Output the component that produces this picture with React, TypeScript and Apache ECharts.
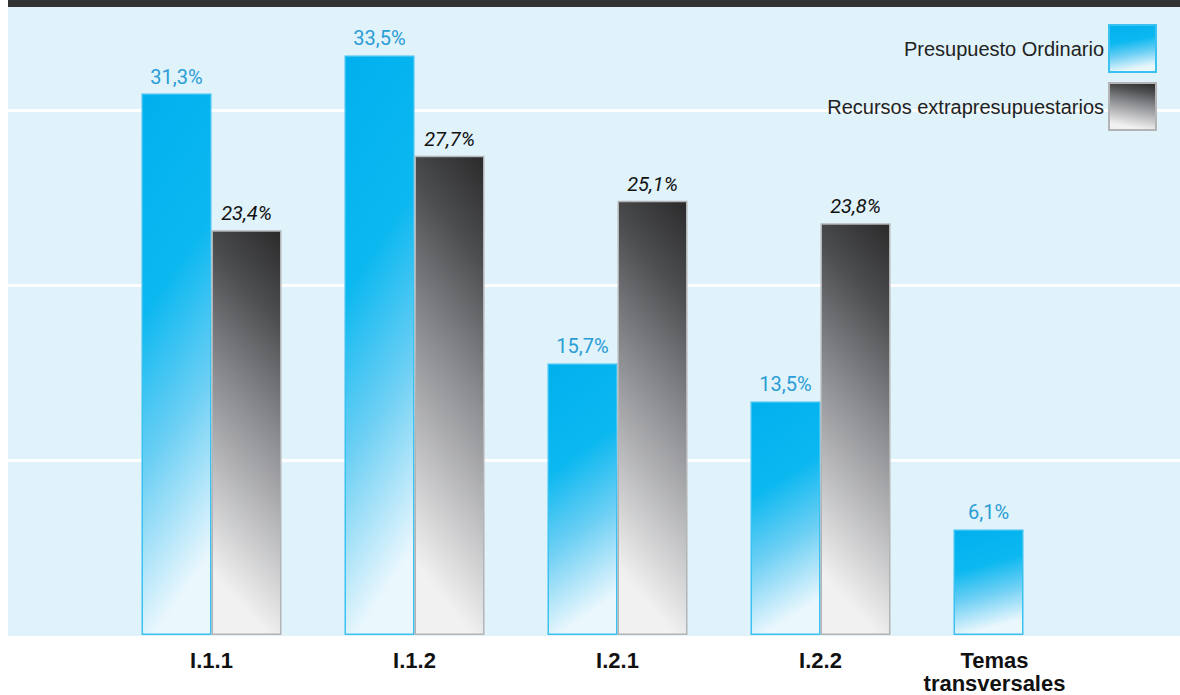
import React, { useEffect, useRef } from "react";
import * as echarts from "echarts";

const categories = ["I.1.1", "I.1.2", "I.2.1", "I.2.2", "Temas\ntransversales"];
const ordinario = [31.3, 33.5, 15.7, 13.5, 6.1];
const extra: (number | null)[] = [23.4, 27.7, 25.1, 23.8, null];
const seriesNames = ["Presupuesto Ordinario", "Recursos extrapresupuestarios"];

const fmt = (v: number) => v.toFixed(1).replace(".", ",") + "%";

export default function App() {
  const ref = useRef<HTMLDivElement>(null);
  useEffect(() => {
    document.body.style.margin = "0";
    const chart = echarts.init(ref.current!, undefined, { renderer: "svg" });
    const blueGrad = new echarts.graphic.LinearGradient(0, 0, 0.18, 1, [
      { offset: 0, color: "#00b0ee" },
      { offset: 0.4, color: "#0cb8f0" },
      { offset: 0.68, color: "#6ccff4" },
      { offset: 1, color: "#eaf7fd" },
    ]);
    const greyGrad = new echarts.graphic.LinearGradient(1, 0, 0.82, 1, [
      { offset: 0, color: "#2a2a2b" },
      { offset: 0.22, color: "#4d4e50" },
      { offset: 0.5, color: "#8a8b8f" },
      { offset: 1, color: "#f1f1f1" },
    ]);
    chart.setOption({
      animation: false,
      graphic: [
        { type: "rect", z: -10, shape: { x: 8, y: 0, width: 1172, height: 7 }, style: { fill: "#333333" } },
        { type: "rect", z: -10, shape: { x: 8, y: 7, width: 1172, height: 629 }, style: { fill: "#e0f2fa" } },
      ],
      legend: {
        orient: "vertical",
        right: 23,
        top: 24,
        padding: 0,
        align: "right",
        itemWidth: 47,
        itemHeight: 47,
        itemGap: 9,
        icon: "rect",
        data: seriesNames,
        textStyle: { fontFamily: "Liberation Sans", fontSize: 20, color: "#222" },
      },
      grid: [
        { left: 8, right: 0, top: 7, bottom: 60 },
        { left: 110, width: 1015, top: 7, bottom: 60 },
      ],
      xAxis: [
        { type: "value", gridIndex: 0, show: false, min: 0, max: 1 },
        {
          type: "category",
          gridIndex: 1,
          data: categories.map((c, i) =>
            i === categories.length - 1 ? { value: c, textStyle: { padding: [0, 58, 0, 0] } } : c
          ),
          axisLine: { show: false },
          axisTick: { show: false },
          axisLabel: {
            interval: 0,
            margin: 14,
            fontFamily: "Liberation Sans",
            fontWeight: "bold",
            fontSize: 22,
            lineHeight: 23,
            color: "#111",
          },
        },
      ],
      yAxis: [
        {
          type: "value",
          gridIndex: 0,
          min: 0,
          max: 35.9,
          interval: 10,
          axisLabel: { show: false },
          axisLine: { show: false },
          axisTick: { show: false },
          splitLine: { show: true, showMinLine: false, showMaxLine: false, lineStyle: { color: "#ffffff", width: 3 } },
        },
        {
          type: "value",
          gridIndex: 1,
          min: 0,
          max: 36.3,
          axisLabel: { show: false },
          axisLine: { show: false },
          axisTick: { show: false },
          splitLine: { show: false },
        },
      ],
      series: [
        {
          name: seriesNames[0],
          type: "bar",
          xAxisIndex: 1,
          yAxisIndex: 1,
          barWidth: 70,
          barGap: "0%",
          data: ordinario,
          itemStyle: { color: blueGrad, borderColor: "#3cc2f1", borderWidth: 1.5 },
          label: {
            show: true,
            position: "top",
            distance: 7,
            formatter: (p: any) => fmt(p.value),
            fontFamily: "Roboto",
            fontSize: 20,
            color: "#2a9dd6",
          },
        },
        {
          name: seriesNames[1],
          type: "bar",
          xAxisIndex: 1,
          yAxisIndex: 1,
          barWidth: 70,
          barGap: "0%",
          data: extra,
          itemStyle: { color: greyGrad, borderColor: "#b4b4b6", borderWidth: 1.5 },
          label: {
            show: true,
            position: "top",
            distance: 7,
            formatter: (p: any) => (p.value == null ? "" : fmt(p.value)),
            fontFamily: "Roboto",
            fontStyle: "italic",
            fontSize: 20,
            color: "#111",
          },
        },
      ],
    });
    return () => chart.dispose();
  }, []);
  return <div ref={ref} style={{ width: 1180, height: 695 }} />;
}
